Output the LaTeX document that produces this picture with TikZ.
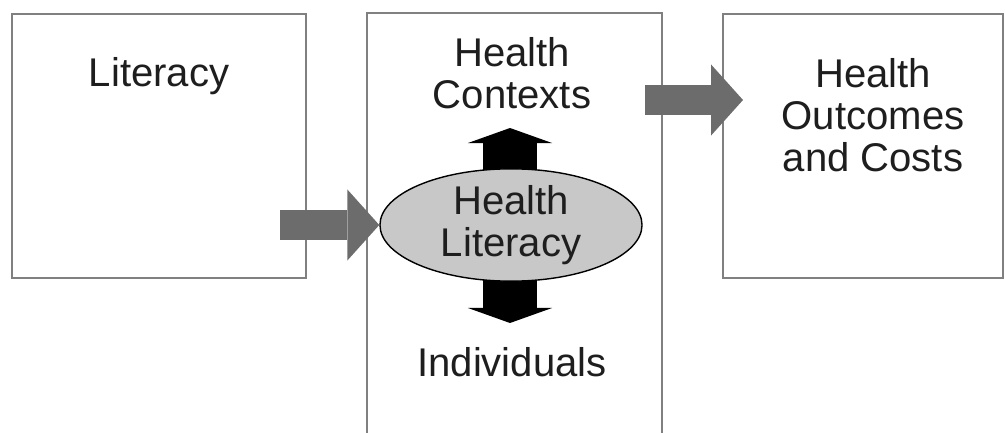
\documentclass[tikz,border=0pt]{standalone}
\usepackage{fontspec}
\setmainfont{Liberation Sans}
\usetikzlibrary{arrows.meta,shapes.geometric}
\definecolor{boxgray}{RGB}{128,128,128}
\definecolor{arrowgray}{RGB}{108,108,108}
\definecolor{ovalgray}{RGB}{200,200,200}
\definecolor{inkgray}{RGB}{30,30,30}
\tikzset{
  frame/.style={draw=boxgray, line width=0.05cm, inner sep=0pt},
  boxtext/.style={font=\fontsize{28.5}{29.9}\selectfont, text=inkgray, align=center, inner sep=0pt, anchor=north},
  grayarrow/.style={arrowgray, line width=0.75cm, -{Triangle[length=0.8cm,width=1.78cm,line width=0pt]}},
  blackarrow/.style={black, line width=1.35cm, {Triangle[length=0.375cm,width=2.1cm,line width=0pt]}-{Triangle[length=0.375cm,width=2.1cm,line width=0pt]}},
  oval/.style={ellipse, draw=black, line width=0.035cm, fill=ovalgray, minimum width=6.55cm, minimum height=2.5cm, inner sep=0pt,
    font=\fontsize{28.5}{29.9}\selectfont, text=inkgray, align=center}
}
\begin{document}
\begin{tikzpicture}[x=0.025cm,y=-0.025cm]
    \useasboundingbox (0,0) rectangle (1005,433);

    \node[frame, minimum width=7.35cm, minimum height=6.6cm] (lit) at (159,146) {};
    \node[frame, minimum width=7cm, minimum height=6.6cm] (out) at (863,146) {};
    \draw[boxgray, line width=0.05cm] (367,433) -- (367,13) -- (662,13) -- (662,433);

    \node[boxtext] (littext) at (159,57) {Literacy};
    \node[boxtext] (ctx) at (512,37) {Health\\Contexts};
    \node[boxtext] (ind) at (512,347) {Individuals};
    \node[boxtext] (outtext) at (873,58) {Health\\Outcomes\\and Costs};

    \coordinate (up) at (510,128);
    \coordinate (down) at (510,323);
    \draw[blackarrow] (up) -- (down);
    \node[oval] (hl) at (511,225) {Health\\Literacy};

    \coordinate (s1) at (280,225);
    \draw[grayarrow] (s1) -- (hl.west);
    \coordinate (s2) at (645,100);
    \coordinate (t2) at (743,100);
    \draw[grayarrow] (s2) -- (t2);
\end{tikzpicture}
\end{document}
